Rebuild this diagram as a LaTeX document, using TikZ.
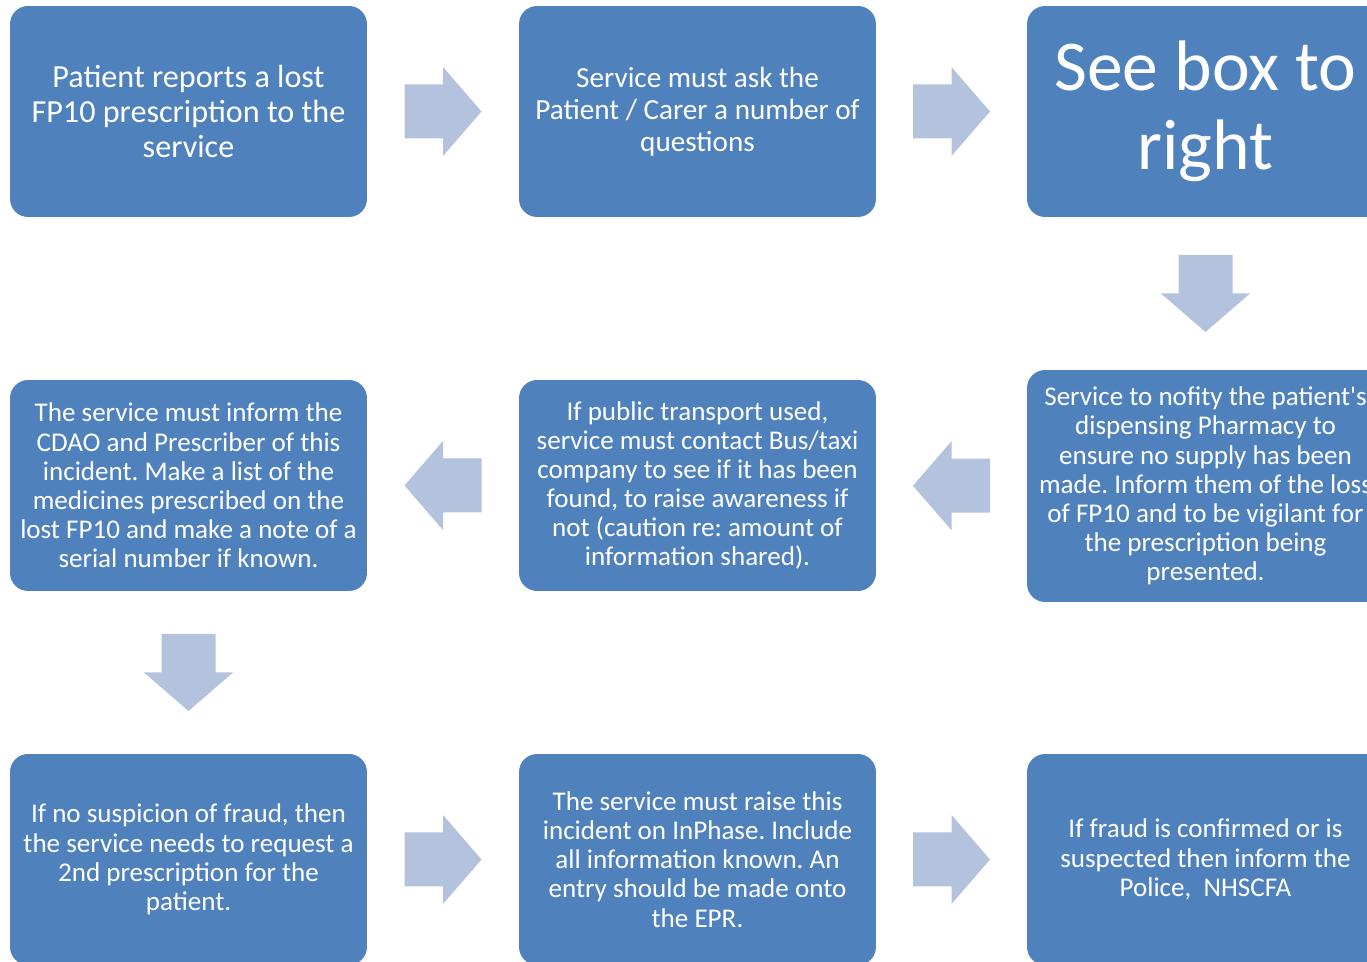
\documentclass[tikz,border=0pt]{standalone}
\usepackage{fontspec}
\setmainfont{Carlito}[Ligatures=TeXOff]
\usetikzlibrary{calc}

\definecolor{boxblue}{RGB}{79,129,189}
\definecolor{arrowblue}{RGB}{179,194,221}

\tikzset{
  stepbox/.style={fill=boxblue, rounded corners=0.36cm, text=white, align=center,
    minimum width=7.14cm, minimum height=4.22cm, inner sep=0pt,
    font=\fontsize{15.4}{16.6}\selectfont},
  blockarrow/.pic={
    \fill[arrowblue] (-38.5,-27) -- (0,-27) -- (0,-44.5) -- (38.5,0)
      -- (0,44.5) -- (0,27) -- (-38.5,27) -- cycle;
  }
}

\begin{document}
\frenchspacing
\begin{tikzpicture}[x=0.02cm, y=-0.02cm]
\useasboundingbox (0,0) rectangle (1367,962);
\clip (0,0) rectangle (1367,962);

% top row
\node[stepbox, font=\fontsize{18.3}{19.8}\selectfont] (lost) at (188.5,111.5)
  {Patient reports a lost\\FP10 prescription to the\\service};
\node[stepbox, font=\fontsize{16.6}{18.1}\selectfont] (ask) at (697.5,111.5)
  {Service must ask the\\Patient / Carer a number of\\questions};
\node[stepbox, font=\fontsize{40.7}{44.8}\selectfont] (seebox) at (1205.5,111.5)
  {See box to\\right};

% middle row
\node[stepbox, minimum height=4.64cm] (notify) at (1205.5,486)
  {Service to nofity the patient's\\dispensing Pharmacy to\\ensure no supply has been\\made. Inform them of the loss\\of FP10 and to be vigilant for\\the prescription being\\presented.};
\node[stepbox] (transport) at (697.5,485.5)
  {If public transport used,\\service must contact Bus/taxi\\company to see if it has been\\found, to raise awareness if\\not (caution re: amount of\\information shared).};
\node[stepbox] (inform) at (188.5,485.5)
  {The service must inform the\\CDAO and Prescriber of this\\incident. Make a list of the\\medicines prescribed on the\\lost FP10 and make a note of a\\serial number if known.};

% bottom row
\node[stepbox] (secondrx) at (188.5,859.5)
  {If no suspicion of fraud, then\\the service needs to request a\\2nd prescription for the\\patient.};
\node[stepbox] (inphase) at (697.5,859.5)
  {The service must raise this\\incident on InPhase. Include\\all information known. An\\entry should be made onto\\the EPR.};
\node[stepbox] (fraud) at (1205.5,859.5)
  {If fraud is confirmed or is\\suspected then inform the\\Police,\ \ NHSCFA};

% arrows
\pic at ($(lost.east)!.5!(ask.west)$) {blockarrow};
\pic at ($(ask.east)!.5!(seebox.west)$) {blockarrow};
\pic[rotate=-90] at ($(seebox.south)!.5!(notify.north)$) {blockarrow};
\pic[rotate=180] at ($(notify.west)!.5!(transport.east)$) {blockarrow};
\pic[rotate=180] at ($(transport.west)!.5!(inform.east)$) {blockarrow};
\pic[rotate=-90] at ($(inform.south)!.5!(secondrx.north)$) {blockarrow};
\pic at ($(secondrx.east)!.5!(inphase.west)$) {blockarrow};
\pic at ($(inphase.east)!.5!(fraud.west)$) {blockarrow};
\end{tikzpicture}
\end{document}
